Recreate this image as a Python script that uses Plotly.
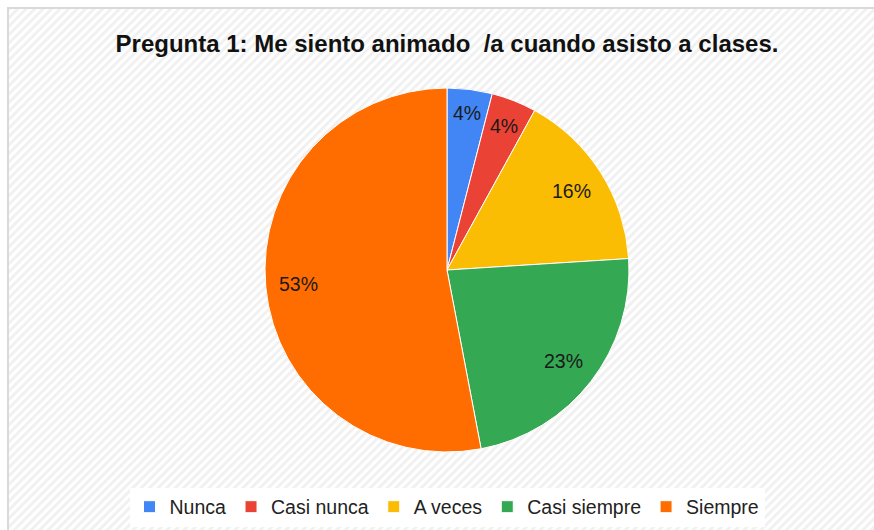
import math
import urllib.parse
import plotly.graph_objects as go

categories = ["Nunca", "Casi nunca", "A veces", "Casi siempre", "Siempre"]
percentages = [4, 4, 16, 23, 53]
colors = ["#4285F4", "#EA4335", "#FBBC04", "#34A853", "#FF6D01"]
title_text = "Pregunta 1: Me siento animado  /a cuando asisto a clases."

W, H = 874, 530
CX, CY, R = 447, 270, 182          # pie centre / radius in pixels
FONT = "Liberation Sans, Arial, sans-serif"
LABEL_SIZE = 19.5

svg = (
    "<svg xmlns='http://www.w3.org/2000/svg' width='874' height='530'>"
    "<defs><pattern id='p' width='6' height='6' patternUnits='userSpaceOnUse' "
    "patternTransform='rotate(45)'>"
    "<rect width='6' height='6' fill='#ffffff'/>"
    "<rect width='3' height='6' fill='#f1f1f1'/></pattern></defs>"
    "<rect width='874' height='530' fill='url(#p)'/></svg>"
)
bg_uri = "data:image/svg+xml;charset=utf-8," + urllib.parse.quote(svg)

fig = go.Figure()
fig.add_trace(go.Pie(
    labels=categories,
    values=percentages,
    sort=False,
    direction="clockwise",
    rotation=0,
    marker=dict(colors=colors, line=dict(color="#ffffff", width=1)),
    textinfo="none",
    domain=dict(x=[(CX - R) / W, (CX + R) / W], y=[1 - (CY + R) / H, 1 - (CY - R) / H]),
    showlegend=True,
    hoverinfo="label+percent",
))

# "inside end" style data labels, placed from the slice mid-angles
char_w = {"%": 0.889}
annotations = []
total = sum(percentages)
cum = 0
for v in percentages:
    mid = (cum + v / 2) / total * 2 * math.pi
    cum += v
    txt = f"{round(v / total * 100)}%"
    w = sum(char_w.get(c, 0.556) for c in txt) * LABEL_SIZE
    h = LABEL_SIZE * 0.95
    s, c = math.sin(mid), math.cos(mid)
    r = R - 13 - (abs(s) * w / 2 + abs(c) * h / 2)
    px, py = CX + r * s, CY - r * c
    annotations.append(dict(text=txt, x=px / W, y=1 - py / H, xref="paper", yref="paper",
                            showarrow=False, xanchor="center", yanchor="middle",
                            font=dict(family=FONT, size=LABEL_SIZE, color="#1a1a1a")))

fig.update_layout(
    width=W, height=H,
    margin=dict(l=0, r=0, t=0, b=0),
    paper_bgcolor="#ffffff",
    plot_bgcolor="#ffffff",
    images=[dict(source=bg_uri, xref="paper", yref="paper", x=8 / W, y=1 - 8 / H,
                 sizex=1, sizey=1, xanchor="left", yanchor="top",
                 sizing="stretch", layer="below")],
    shapes=[dict(type="rect", xref="paper", yref="paper",
                 x0=8 / W, x1=1.02, y0=-0.02, y1=1 - 8 / H,
                 line=dict(color="#d9d9d9", width=2), fillcolor="rgba(0,0,0,0)",
                 layer="below")],
    annotations=annotations,
    title=dict(text="<b>" + title_text + "</b>", x=CX / W, xanchor="center",
               y=1 - 44 / H, yanchor="middle",
               font=dict(family=FONT, size=24, color="#111111")),
    legend=dict(orientation="h", x=CX / W, xanchor="center", y=1 - 507 / H, yanchor="middle",
                bgcolor="#ffffff", font=dict(family=FONT, size=19.5, color="#222222"),
                itemwidth=30, traceorder="normal"),
)

fig.write_html("out.html", config={"displayModeBar": False},
               post_script="document.body.style.margin='0px';")
